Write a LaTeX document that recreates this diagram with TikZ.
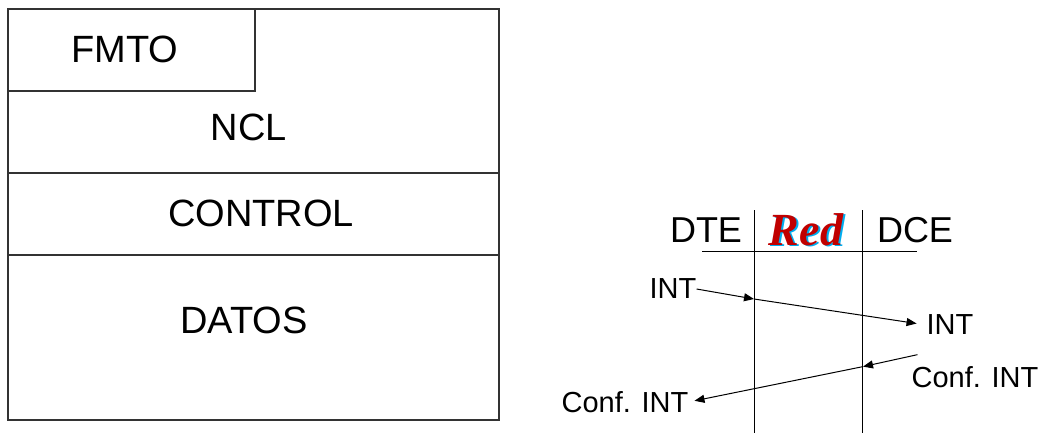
\documentclass[tikz,border=0pt]{standalone}
\usepackage{fontspec}
\setmainfont{Liberation Sans}
\newfontfamily\redfont{Liberation Serif}
\usetikzlibrary{arrows.meta}
\definecolor{redtitle}{RGB}{192,0,0}
\tikzset{
	layer/.style={font=\fontsize{38}{40}\selectfont, inner sep=0pt},
	side/.style={font=\fontsize{36}{40}\selectfont, inner sep=0pt},
	msg/.style={font=\fontsize{29}{32}\selectfont, inner sep=0pt},
	title/.style={anchor=base, inner sep=0pt, font=\fontsize{46}{48}\selectfont\redfont\bfseries\itshape},
	sig/.style={line width=1pt, -{Triangle[length=10pt,width=8pt]}},
}

\begin{document}
\begin{tikzpicture}[x=1pt,y=-1pt]
	\useasboundingbox (0,0) rectangle (1040,433);
	% trama
	\draw[line width=1.2pt, black!80] (8,9) rectangle (499,420);
	\draw[line width=1.2pt, black!80] (8,91) -- (255,91) -- (255,9);
	\draw[line width=1.2pt, black!80] (8,173) -- (499,173);
	\draw[line width=1.2pt, black!80] (8,255) -- (499,255);
	\node[layer] (fmto) at (125,49) {FMTO};
	\node[layer] (ncl) at (249,127) {NCL};
	\node[layer] (ctrl) at (261,213) {CONTROL};
	\node[layer] (datos) at (244,320) {DATOS};
	% intercambio DTE / DCE
	\draw[thick] (702,251) -- (917,251);
	\draw[thick] (754,210) -- (754,433);
	\draw[thick] (862,210) -- (862,433);
	\node[side] (dte) at (706,230) {DTE};
	\node[side] (dce) at (915,230) {DCE};
	\node[title, text=cyan] at (808,246) {Red};
	\node[title, text=redtitle] (red) at (806,245) {Red};
	\node[msg] (intL) at (673,289) {INT};
	\node[msg] (intR) at (950,325) {INT};
	\node[msg] (confR) at (975,377) {Conf. INT};
	\node[msg] (confL) at (625,402) {Conf. INT};
	\coordinate (a1) at (754,299);
	\coordinate (a2) at (863,366.6);
	\draw[sig] (intL.east) -- (a1);
	\draw[sig, shorten >=10pt] (a1) -- (intR.west);
	\draw[sig] ([xshift=6pt,yshift=11.5pt]confR.north west) -- (a2);
	\draw[sig, shorten >=6pt] (a2) -- (confL.east);
\end{tikzpicture}
\end{document}
